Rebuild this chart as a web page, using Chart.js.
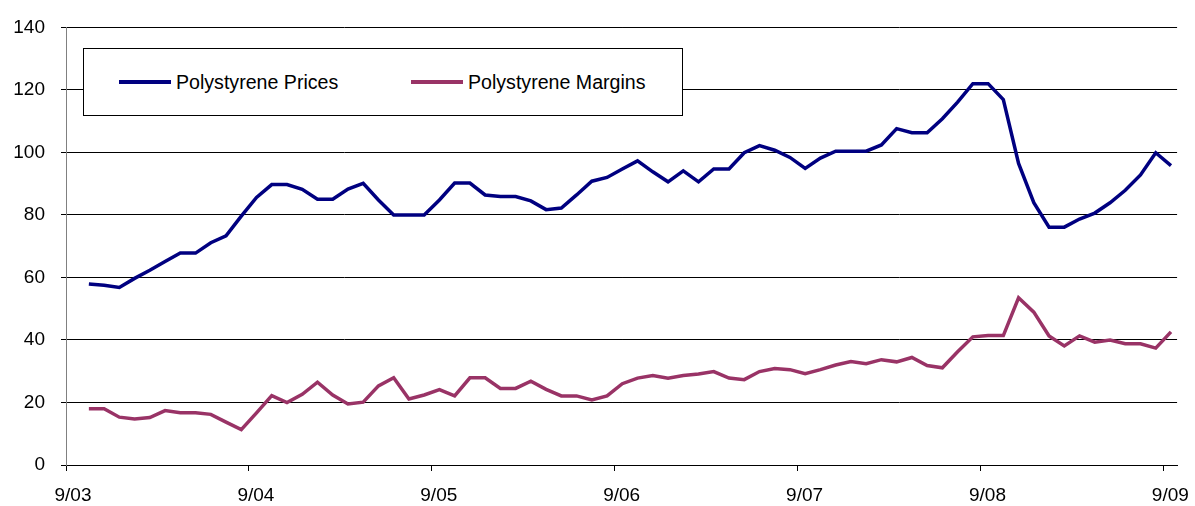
<!DOCTYPE html>
<html>
<head>
<meta charset="utf-8">
<script src="https://cdn.jsdelivr.net/npm/chart.js@4/dist/chart.umd.min.js"></script>
<style>
body { margin: 0; background: #fff; }
#wrap { position: relative; width: 1195px; height: 506px; }
#legend {
    position: absolute; left: 83px; top: 48px; width: 600px; height: 68px;
    box-sizing: border-box; border: 1px solid #000; background: #fff;
    font: 19.6px "Liberation Sans", Arial, sans-serif; color: #000;
}
.item { position: absolute; top: 22px; height: 22px; line-height: 22px; white-space: nowrap; }
.item span.line { position: absolute; left: 0; top: 9px; width: 52px; height: 4px; }
.item span.text { position: absolute; left: 57px; }
</style>
</head>
<body>
<div id="wrap">
    <canvas id="polyChart" width="1195" height="506"></canvas>
    <div id="legend"></div>
</div>
<script>
// month axis: Oct 2003 .. Sep 2009, one point per month
var months = [];
for (var y = 3; y <= 9; y++) {
    for (var m = 1; m <= 12; m++) {
        if ((y === 3 && m < 10) || (y === 9 && m > 9)) continue;
        months.push(m + '/' + (y < 10 ? '0' + y : y));
    }
}

var yearLabels = ['9/03', '9/04', '9/05', '9/06', '9/07', '9/08', '9/09'];

var prices = [
    57.9, 57.5, 56.8, 59.7, 62.3, 65.1, 67.8, 67.8, 71.1, 73.3, 79.6, 85.6,
    89.7, 89.7, 88.2, 85.0, 85.0, 88.3, 90.1, 84.8, 80.0, 80.0, 80.0, 84.8,
    90.2, 90.2, 86.4, 85.9, 85.9, 84.5, 81.7, 82.2, 86.4, 90.8, 92.0, 94.7,
    97.3, 93.8, 90.6, 94.1, 90.6, 94.7, 94.7, 99.9, 102.2, 100.7, 98.4, 94.9,
    98.2, 100.4, 100.4, 100.4, 102.4, 107.6, 106.3, 106.3, 110.8, 116.1, 122.0, 122.0,
    116.9, 96.5, 83.9, 76.1, 76.1, 78.7, 80.6, 83.9, 87.9, 92.8, 99.9, 95.8
];

var margins = [
    18.0, 18.0, 15.3, 14.7, 15.2, 17.4, 16.7, 16.7, 16.2, 13.7, 11.3, 16.7,
    22.2, 20.0, 22.6, 26.5, 22.4, 19.5, 20.1, 25.3, 27.9, 21.1, 22.4, 24.1,
    22.1, 27.9, 27.9, 24.5, 24.5, 26.8, 24.2, 22.1, 22.1, 20.8, 22.1, 26.0,
    27.8, 28.6, 27.8, 28.6, 29.1, 29.9, 27.8, 27.3, 29.9, 30.9, 30.5, 29.2,
    30.5, 32.0, 33.1, 32.4, 33.7, 33.0, 34.4, 31.8, 31.1, 36.2, 41.0, 41.4,
    41.4, 53.5, 48.9, 41.3, 38.1, 41.3, 39.3, 40.0, 38.8, 38.8, 37.4, 42.6
];

// position in months from the 9/03 tick, point in the middle of its month
function monthPos(label) {
    var p = label.split('/');
    return (parseInt(p[1], 10) - 3) * 12 + (parseInt(p[0], 10) - 9) + 0.5;
}

function series(values) {
    return months.map(function (m, i) { return { x: monthPos(m), y: values[i] }; });
}

var yearTicks = yearLabels.map(function (l) { return monthPos(l) - 0.5; });
var font = { family: '"Liberation Sans", Arial, sans-serif', size: 19 };

var ctx = document.getElementById('polyChart').getContext('2d');
var chart = new Chart(ctx, {
    type: 'line',
    data: {
        datasets: [{
            label: 'Polystyrene Prices',
            data: series(prices),
            borderColor: '#000080',
            borderWidth: 3.5,
            pointRadius: 0,
            tension: 0
        }, {
            label: 'Polystyrene Margins',
            data: series(margins),
            borderColor: '#993366',
            borderWidth: 3.5,
            pointRadius: 0,
            tension: 0
        }]
    },
    options: {
        responsive: false,
        animation: false,
        devicePixelRatio: 1,
        layout: { padding: { top: 24, right: 12, left: 0, bottom: 0 } },
        plugins: { legend: { display: false }, tooltip: { enabled: false } },
        scales: {
            x: {
                type: 'linear',
                min: 0,
                max: 72.9,
                afterBuildTicks: function (s) { s.ticks = yearTicks.map(function (v) { return { value: v }; }); },
                afterFit: function (s) { s.height = 41; },
                ticks: {
                    autoSkip: false, maxRotation: 0, color: '#000', font: font, padding: 13, labelOffset: 7,
                    callback: function (v) { return yearLabels[yearTicks.indexOf(v)]; }
                },
                grid: { drawOnChartArea: false, tickLength: 6, color: '#000' },
                border: { color: '#000' }
            },
            y: {
                min: 0,
                max: 140,
                afterFit: function (s) { s.width = 66; },
                ticks: { stepSize: 20, color: '#000', font: font, padding: 16 },
                grid: { color: '#000', tickLength: 5 },
                border: { color: '#808080' }
            }
        }
    }
});

// legend box inside the plot, built from the datasets
var legend = document.getElementById('legend');
var offsets = [35, 327];
chart.data.datasets.forEach(function (ds, i) {
    var item = document.createElement('div');
    item.className = 'item';
    item.style.left = offsets[i] + 'px';
    item.innerHTML = '<span class="line" style="background:' + ds.borderColor + '"></span>' +
        '<span class="text">' + ds.label + '</span>';
    legend.appendChild(item);
});
</script>
</body>
</html>
